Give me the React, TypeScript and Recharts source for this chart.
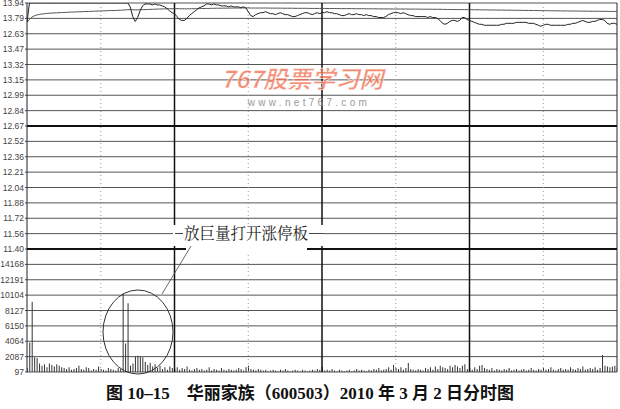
import { ComposedChart, Line, Bar, XAxis, YAxis, CartesianGrid, ReferenceLine } from 'recharts'

// y-axis labels, top to bottom (as printed)
const priceLabels = ['13.94', '13.79', '12.63', '13.47', '13.32', '13.15', '12.99', '12.84', '12.67', '12.52', '12.36', '12.21', '12.04', '11.88', '11.72', '11.56', '11.40']
const volumeLabels = ['14168', '12191', '10104', '8127', '6150', '4064', '2087', '97']
const axisLabels = [...priceLabels, ...volumeLabels]

// minute-by-minute price (0 = 9:30 ... 240 = 15:00)
const price = [
  13.74, 13.94, 13.94, 13.94, 13.94, 13.94, 13.94, 13.94, 13.94, 13.94,
  13.94, 13.94, 13.94, 13.94, 13.94, 13.94, 13.94, 13.94, 13.94, 13.94,
  13.94, 13.94, 13.94, 13.94, 13.94, 13.94, 13.94, 13.94, 13.94, 13.94,
  13.94, 13.94, 13.94, 13.94, 13.94, 13.94, 13.94, 13.94, 13.94, 13.94,
  13.94, 13.94, 13.90, 13.80, 13.75, 13.79, 13.86, 13.91, 13.93, 13.93,
  13.93, 13.92, 13.93, 13.92, 13.92, 13.91, 13.90, 13.88, 13.86, 13.84,
  13.83, 13.80, 13.77, 13.76, 13.76, 13.78, 13.81, 13.83, 13.85, 13.87,
  13.89, 13.90, 13.91, 13.93, 13.93, 13.92, 13.93, 13.92, 13.92, 13.91,
  13.91, 13.91, 13.90, 13.91, 13.90, 13.90, 13.90, 13.89, 13.90, 13.89,
  13.85, 13.81, 13.80, 13.82, 13.83, 13.84, 13.84, 13.85, 13.84, 13.83,
  13.83, 13.82, 13.83, 13.84, 13.83, 13.82, 13.82, 13.81, 13.80, 13.80,
  13.81, 13.82, 13.83, 13.84, 13.84, 13.83, 13.82, 13.83, 13.84, 13.83,
  13.84, 13.84, 13.85, 13.84, 13.84, 13.83, 13.83, 13.82, 13.81, 13.81,
  13.82, 13.83, 13.82, 13.82, 13.83, 13.82, 13.82, 13.81, 13.82, 13.81,
  13.81, 13.80, 13.80, 13.79, 13.79, 13.79, 13.80, 13.82, 13.83, 13.84,
  13.84, 13.84, 13.83, 13.84, 13.83, 13.82, 13.81, 13.81, 13.80, 13.80,
  13.80, 13.80, 13.80, 13.79, 13.80, 13.79, 13.79, 13.78, 13.76, 13.73,
  13.72, 13.73, 13.75, 13.76, 13.76, 13.75, 13.76, 13.79, 13.79, 13.77,
  13.76, 13.75, 13.74, 13.73, 13.72, 13.72, 13.71, 13.71, 13.71, 13.71,
  13.71, 13.71, 13.71, 13.72, 13.72, 13.73, 13.73, 13.73, 13.73, 13.74,
  13.74, 13.74, 13.74, 13.74, 13.73, 13.73, 13.73, 13.72, 13.71, 13.70,
  13.71, 13.72, 13.72, 13.71, 13.71, 13.71, 13.71, 13.71, 13.71, 13.71,
  13.72, 13.72, 13.73, 13.73, 13.74, 13.75, 13.76, 13.75, 13.74, 13.74,
  13.75, 13.75, 13.76, 13.77, 13.77, 13.76, 13.73, 13.72, 13.73, 13.73, 13.72,
]

// average price line
const avgPrice = [
  13.740, 13.770, 13.795, 13.808, 13.816, 13.822, 13.826, 13.829, 13.832, 13.834,
  13.836, 13.837, 13.839, 13.840, 13.841, 13.842, 13.843, 13.845, 13.846, 13.847,
  13.848, 13.849, 13.850, 13.851, 13.852, 13.853, 13.854, 13.855, 13.856, 13.857,
  13.858, 13.859, 13.860, 13.861, 13.862, 13.862, 13.863, 13.864, 13.865, 13.867,
  13.869, 13.871, 13.871, 13.870, 13.869, 13.869, 13.870, 13.871, 13.872, 13.873,
  13.874, 13.875, 13.876, 13.877, 13.878, 13.879, 13.880, 13.880, 13.881, 13.881,
  13.881, 13.881, 13.881, 13.880, 13.880, 13.880, 13.880, 13.881, 13.881, 13.882,
  13.882, 13.883, 13.883, 13.884, 13.884, 13.885, 13.885, 13.886, 13.886, 13.886,
  13.887, 13.887, 13.887, 13.888, 13.888, 13.888, 13.888, 13.889, 13.889, 13.889,
  13.889, 13.888, 13.888, 13.888, 13.888, 13.888, 13.888, 13.888, 13.888, 13.887,
  13.887, 13.887, 13.887, 13.887, 13.886, 13.886, 13.886, 13.886, 13.886, 13.885,
  13.885, 13.885, 13.885, 13.885, 13.885, 13.884, 13.884, 13.884, 13.884, 13.884,
  13.884, 13.884, 13.883, 13.883, 13.883, 13.883, 13.883, 13.882, 13.882, 13.882,
  13.882, 13.882, 13.882, 13.881, 13.881, 13.881, 13.881, 13.881, 13.880, 13.880,
  13.880, 13.880, 13.880, 13.879, 13.879, 13.879, 13.879, 13.879, 13.879, 13.878,
  13.878, 13.878, 13.878, 13.878, 13.878, 13.877, 13.877, 13.877, 13.877, 13.877,
  13.876, 13.876, 13.876, 13.876, 13.876, 13.875, 13.875, 13.875, 13.875, 13.874,
  13.874, 13.873, 13.873, 13.873, 13.872, 13.872, 13.872, 13.872, 13.872, 13.871,
  13.871, 13.871, 13.870, 13.870, 13.870, 13.869, 13.869, 13.869, 13.868, 13.868,
  13.868, 13.867, 13.867, 13.867, 13.866, 13.866, 13.866, 13.865, 13.865, 13.865,
  13.864, 13.864, 13.864, 13.863, 13.863, 13.863, 13.862, 13.862, 13.862, 13.861,
  13.861, 13.861, 13.860, 13.860, 13.860, 13.859, 13.859, 13.859, 13.858, 13.858,
  13.858, 13.857, 13.857, 13.857, 13.857, 13.856, 13.856, 13.856, 13.856, 13.855,
  13.855, 13.855, 13.855, 13.854, 13.854, 13.854, 13.854, 13.853, 13.853, 13.853, 13.853,
]

// volume per minute (lots)
const volume = [
  600, 3900, 9200, 2000, 1900, 1200, 900, 1100, 700, 1200,
  1000, 800, 1100, 900, 700, 600, 500, 700, 400, 500,
  600, 900, 500, 400, 700, 600, 300, 500, 400, 800,
  500, 400, 300, 600, 500, 400, 300, 600, 500, 10300,
  3800, 9000, 900, 1200, 2100, 2200, 2100, 2000, 1400, 1000,
  1300, 800, 1100, 600, 900, 500, 700, 400, 800, 600,
  500, 700, 400, 600, 500, 800, 400, 300, 500, 600,
  400, 500, 300, 400, 700, 300, 500, 400, 300, 600,
  400, 300, 500, 400, 300, 400, 600, 500, 300, 700,
  900, 500, 400, 300, 500, 400, 300, 400, 200, 300,
  400, 300, 200, 400, 300, 500, 300, 200, 300, 400,
  300, 200, 400, 300, 200, 300, 400, 300, 500, 400,
  750, 300, 400, 300, 500, 300, 200, 400, 300, 200,
  300, 400, 200, 300, 500, 300, 400, 300, 200, 400,
  300, 500, 400, 600, 300, 400, 500, 700, 400, 1000,
  600, 500, 700, 400, 600, 1260, 500, 400, 300, 500,
  400, 300, 600, 500, 700, 400, 800, 500, 900, 700,
  600, 500, 900, 700, 1000, 800, 600, 900, 1100, 500,
  600, 400, 700, 500, 900, 1000, 600, 500, 400, 600,
  300, 500, 400, 300, 500, 400, 600, 300, 400, 500,
  300, 400, 500, 300, 400, 600, 400, 300, 500, 400,
  600, 400, 500, 700, 400, 300, 500, 600, 400, 500,
  400, 700, 500, 400, 600, 500, 800, 400, 500, 600,
  500, 700, 400, 600, 2300, 900, 800, 700, 800, 900, 600,
]

const gridLevels = axisLabels.map((_, i) => i)
const hourLines = [60, 120, 180]
const halfHourLines = [30, 90, 150, 210]
const thickLevels = [16, 8] // 12.67 previous close, 11.40 limit-down

const data = price.map((p, i) => ({ i, price: p, avg: avgPrice[i], vol: volume[i] }))

export default function App() {
  return (
    <div style={{ position: 'absolute', left: 0, top: 0, width: 620, height: 409, background: '#fff' }}>
      <ComposedChart width={620} height={375} data={data} margin={{ top: 3, right: 3, left: 0, bottom: 3 }}>
        <CartesianGrid vertical={false} stroke="#555" strokeWidth={1} />
        <XAxis type="number" dataKey="i" domain={[0, 240]} allowDataOverflow hide />
        <YAxis
          type="number"
          domain={[0, 24]}
          allowDataOverflow
          ticks={gridLevels}
          interval={0}
          width={27}
          tickSize={2}
          tickMargin={1}
          axisLine={{ stroke: '#222' }}
          tickLine={{ stroke: '#444' }}
          tick={{ fontSize: 8.5, fill: '#444', fontFamily: 'Liberation Sans, Arial, sans-serif' }}
          tickFormatter={(v: number) => axisLabels[24 - v]}
        />
        <YAxis yAxisId="price" type="number" domain={[10.13, 13.94]} allowDataOverflow hide />
        <YAxis yAxisId="vol" type="number" domain={[97, 47857]} allowDataOverflow hide />
        {halfHourLines.map(x => (
          <ReferenceLine key={x} x={x} stroke="#999" strokeDasharray="1 3" />
        ))}
        {hourLines.map(x => (
          <ReferenceLine key={x} x={x} stroke="#111" strokeWidth={1.5} />
        ))}
        <ReferenceLine x={240} stroke="#222" />
        {thickLevels.map(y => (
          <ReferenceLine key={y} y={y} stroke="#111" strokeWidth={2} />
        ))}
        <Bar yAxisId="vol" dataKey="vol" barSize={1} fill="#333" isAnimationActive={false} />
        <Line yAxisId="price" dataKey="avg" type="linear" stroke="#555" strokeWidth={1} dot={false} isAnimationActive={false} />
        <Line yAxisId="price" dataKey="price" type="linear" stroke="#222" strokeWidth={1} dot={false} isAnimationActive={false} />
      </ComposedChart>

      <svg width={620} height={409} style={{ position: 'absolute', left: 0, top: 0, pointerEvents: 'none' }}>
        {/* watermark */}
        <text x={302} y={88} textAnchor="middle" fontSize={24} fontWeight="bold" fontStyle="italic"
          fill="#ef6a4c" fillOpacity={0.75} stroke="#fff" strokeWidth={0.5}
          fontFamily="'Noto Sans CJK SC', sans-serif">767股票学习网</text>
        <text x={309} y={106} textAnchor="middle" fontSize={10} fill="#999" letterSpacing={3.3}
          fontFamily="'Liberation Sans', Arial, sans-serif">www.net767.com</text>

        {/* annotation */}
        <rect x={173} y={225} width={150} height={21} fill="#fff" />
        <rect x={186} y={246} width={121} height={6} fill="#fff" />
        <line x1={175} y1={233.5} x2={183} y2={233.5} stroke="#444" />
        <line x1={309} y1={233.5} x2={323} y2={233.5} stroke="#444" />
        <text x={184} y={239} fontSize={15.5} fill="#222" fontFamily="'Noto Serif CJK SC', 'Noto Sans CJK SC', serif">放巨量打开涨停板</text>
        <line x1={191} y1={246} x2={162} y2={294} stroke="#444" strokeWidth={0.8} />
        <ellipse cx={138} cy={332} rx={35} ry={42} fill="none" stroke="#333" strokeWidth={1} />

        {/* caption */}
        <text x={310} y={399} textAnchor="middle" fontSize={17} fontWeight="bold" fill="#111"
          fontFamily="'Liberation Serif', 'Noto Sans CJK SC', serif">
          图 10–15　华丽家族（600503）2010 年 3 月 2 日分时图
        </text>
      </svg>
    </div>
  )
}
